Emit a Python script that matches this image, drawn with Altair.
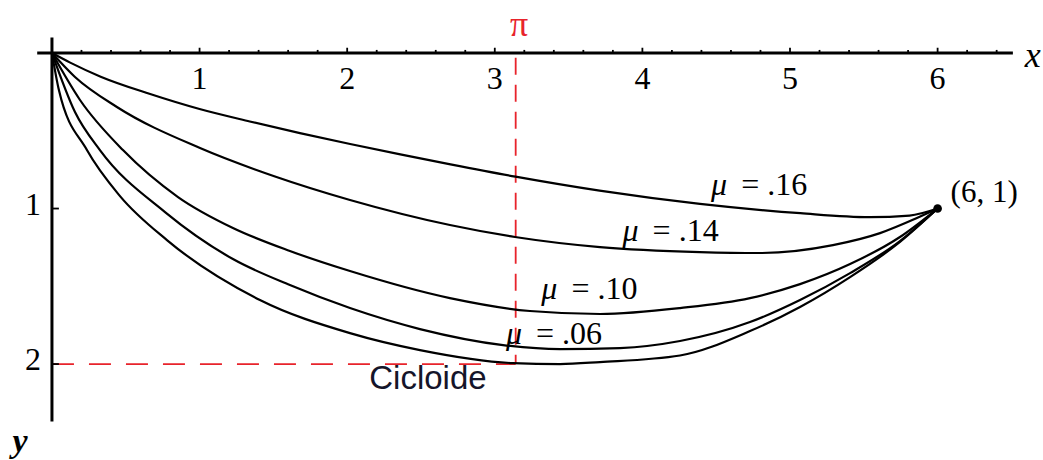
import altair as alt
import pandas as pd

# ---- curves from the origin to the end point (6, 1), y measured downward ----
mu16_x = [0, 0.12, 0.33, 0.66, 1.00, 1.34, 1.68, 2.02, 2.36, 2.70, 3.14, 3.71, 4.39, 5.07, 5.54, 5.81, 6.00]
mu16_y = [0, 0.06, 0.152, 0.262, 0.36, 0.44, 0.515, 0.585, 0.652, 0.716, 0.795, 0.885, 0.97, 1.03, 1.055, 1.045, 1.00]

mu14_x = [0, 0.156, 0.440, 1.003, 1.511, 2.019, 2.696, 3.137, 3.713, 4.390, 4.797, 5.291, 5.610, 5.860, 6.0]
mu14_y = [0, 0.154, 0.347, 0.611, 0.794, 0.945, 1.106, 1.183, 1.248, 1.280, 1.286, 1.235, 1.158, 1.061, 1.0]

mu10_x = [0, 0.190, 0.481, 0.854, 1.226, 1.612, 2.019, 2.696, 3.238, 3.713, 4.255, 4.729, 5.068, 5.407, 5.745, 6.0]
mu10_y = [0, 0.302, 0.624, 0.926, 1.125, 1.273, 1.402, 1.576, 1.659, 1.678, 1.640, 1.576, 1.486, 1.357, 1.183, 1.0]

mu06_x = [0, 0.156, 0.325, 0.766, 1.226, 1.612, 2.019, 2.493, 3.056, 3.442, 3.848, 4.255, 4.729, 5.068, 5.407, 5.745, 6.0]
mu06_y = [0, 0.379, 0.624, 1.023, 1.325, 1.492, 1.640, 1.775, 1.878, 1.904, 1.897, 1.852, 1.730, 1.588, 1.415, 1.209, 1.0]

cyc_x = [0, 0.047, 0.237, 0.461, 0.779, 1.409, 2.019, 2.493, 3.123, 3.442, 3.713, 4.255, 4.729, 5.068, 5.407, 5.745, 6.0]
cyc_y = [0, 0.238, 0.624, 0.920, 1.203, 1.588, 1.801, 1.910, 1.994, 2.0, 1.987, 1.945, 1.788, 1.633, 1.441, 1.215, 1.0]

# ---- labels ----
mu_values = [".16", ".14", ".10", ".06"]
mu_label_x = [4.52, 3.92, 3.37, 3.13]
mu_label_y = [0.91, 1.21, 1.58, 1.87]

x_tick_values = [1, 2, 3, 4, 5, 6]
x_tick_labels = ["1", "2", "3", "4", "5", "6"]
y_tick_values = [1, 2]
y_tick_labels = ["1", "2"]

end_point = (6, 1)
PI = 3.14159

RED = "#e8232b"
SERIF = "Liberation Serif"
SANS = "Liberation Sans"

xs = alt.Scale(domain=[-0.352, 6.714], nice=False, zero=False)
ys = alt.Scale(domain=[-0.341, 2.617], nice=False, zero=False, reverse=True)


def X(f="x"):
    return alt.X(f, type="quantitative", scale=xs, axis=None)


def Y(f="y"):
    return alt.Y(f, type="quantitative", scale=ys, axis=None)


rows = []
for name, cx, cy in [("mu16", mu16_x, mu16_y), ("mu14", mu14_x, mu14_y),
                     ("mu10", mu10_x, mu10_y), ("mu06", mu06_x, mu06_y),
                     ("cyc", cyc_x, cyc_y)]:
    for i, (a, b) in enumerate(zip(cx, cy)):
        rows.append({"series": name, "idx": i, "x": a, "y": b})
curves_df = pd.DataFrame(rows)

curves = alt.Chart(curves_df).mark_line(
    color="black", strokeWidth=2.2, interpolate="monotone"
).encode(x=X(), y=Y(), detail="series:N", order="idx:Q")

# axis lines
axes_df = pd.DataFrame({"x": [-0.1, 0], "x2": [6.51, 0], "y": [0, -0.1], "y2": [0, 2.37]})
axes = alt.Chart(axes_df).mark_rule(color="black", strokeWidth=3).encode(
    x=X(), x2="x2", y=Y(), y2="y2")

# x ticks pointing up: majors at integers, minors every 0.2
minor = [round(0.2 * k, 1) for k in range(1, 33) if k % 5 != 0]
xt_df = pd.DataFrame({
    "x": x_tick_values + minor,
    "y": [0.0] * (len(x_tick_values) + len(minor)),
    "y2": [-0.034] * len(x_tick_values) + [-0.02] * len(minor),
})
xticks = alt.Chart(xt_df).mark_rule(color="black", strokeWidth=1.8).encode(
    x=X(), y=Y(), y2="y2")

yt_df = pd.DataFrame({"x": [0.0] * 2, "x2": [0.047] * 2, "y": y_tick_values})
yticks = alt.Chart(yt_df).mark_rule(color="black", strokeWidth=1.8).encode(
    x=X(), x2="x2", y=Y())

# red reference lines at x = pi and y = 2
vline = alt.Chart(pd.DataFrame({"x": [PI], "y": [0.03], "y2": [2.0]})).mark_rule(
    color=RED, strokeWidth=1.8, strokeDash=[17, 10]).encode(x=X(), y=Y(), y2="y2")
hline = alt.Chart(pd.DataFrame({"x": [0.0], "x2": [PI], "y": [2.0]})).mark_rule(
    color=RED, strokeWidth=1.8, strokeDash=[22, 15]).encode(x=X(), x2="x2", y=Y())

dot = alt.Chart(pd.DataFrame({"x": [end_point[0]], "y": [end_point[1]]})).mark_circle(
    color="black", size=75, opacity=1).encode(x=X(), y=Y())

# tick labels
xl_df = pd.DataFrame({"x": x_tick_values, "y": [0.232] * 6, "t": x_tick_labels})
xlabels = alt.Chart(xl_df).mark_text(
    font=SERIF, fontSize=32, align="center", baseline="alphabetic", color="black"
).encode(x=X(), y=Y(), text="t:N")

yl_df = pd.DataFrame({"x": [-0.075] * 2, "y": y_tick_values, "t": y_tick_labels})
ylabels = alt.Chart(yl_df).mark_text(
    font=SERIF, fontSize=32, align="right", baseline="alphabetic", dy=6, color="black"
).encode(x=X(), y=Y(), text="t:N")

# friction coefficient labels: italic mu, then the value
mu_df = pd.DataFrame({"x": mu_label_x, "y": mu_label_y,
                      "rest": ["= " + v for v in mu_values]})
mu_sym = alt.Chart(mu_df).mark_text(
    font=SERIF, fontSize=32, fontStyle="italic", align="center",
    baseline="alphabetic", color="black", text="μ"
).encode(x=X(), y=Y())
mu_val = alt.Chart(mu_df).mark_text(
    font=SERIF, fontSize=32, align="left", baseline="alphabetic",
    color="black", dx=22
).encode(x=X(), y=Y(), text="rest:N")

end_lbl = alt.Chart(pd.DataFrame({"x": [end_point[0]], "y": [end_point[1]],
                                  "t": ["(6, 1)"]})).mark_text(
    font=SERIF, fontSize=31, align="left", baseline="alphabetic",
    dx=13, dy=-7, color="black"
).encode(x=X(), y=Y(), text="t:N")

pi_lbl = alt.Chart(pd.DataFrame({"x": [3.164], "y": [-0.18], "t": ["π"]})).mark_text(
    font=SERIF, fontSize=36, align="center", baseline="middle", color=RED
).encode(x=X(), y=Y(), text="t:N")

cyc_lbl = alt.Chart(pd.DataFrame({"x": [2.547], "y": [2.161], "t": ["Cicloide"]})).mark_text(
    font=SANS, fontSize=33, align="center", baseline="alphabetic", color="#15152a"
).encode(x=X(), y=Y(), text="t:N")

x_name = alt.Chart(pd.DataFrame({"x": [6.59], "y": [0.09], "t": ["x"]})).mark_text(
    font=SERIF, fontSize=36, fontStyle="italic", align="left",
    baseline="alphabetic", color="black"
).encode(x=X(), y=Y(), text="t:N")

y_name = alt.Chart(pd.DataFrame({"x": [-0.217], "y": [2.566], "t": ["y"]})).mark_text(
    font=SERIF, fontSize=34, fontStyle="italic", fontWeight="bold", align="center",
    baseline="alphabetic", color="black"
).encode(x=X(), y=Y(), text="t:N")

chart = alt.layer(
    vline, hline, axes, xticks, yticks, curves, dot,
    xlabels, ylabels, mu_sym, mu_val, end_lbl, pi_lbl, cyc_lbl, x_name, y_name
).properties(
    width=1043, height=460, padding=0,
    autosize=alt.AutoSizeParams(type="none"),
    background="white",
).configure_view(strokeWidth=0)

chart.save("out.html", embed_options={"renderer": "svg", "actions": False})
